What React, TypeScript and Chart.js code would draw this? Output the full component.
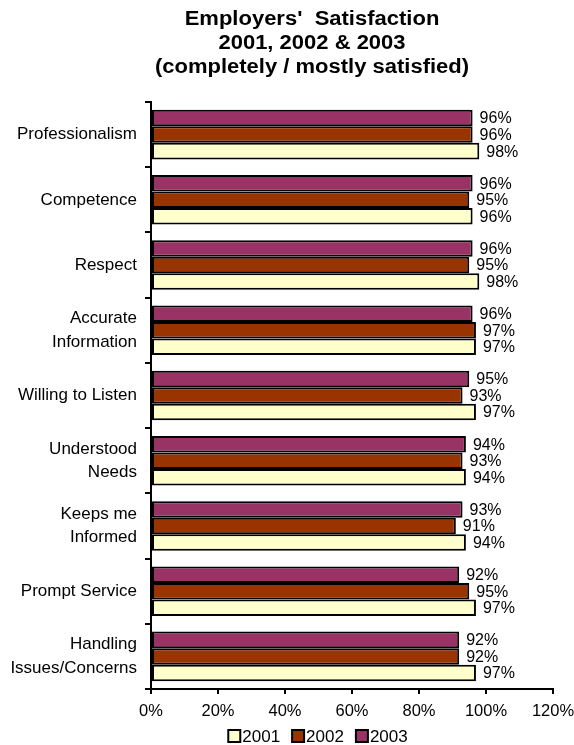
import React, { useEffect, useRef } from "react";
import { Chart, registerables } from "chart.js";

Chart.register(...registerables);

const categories: (string | string[])[] = [
  "Professionalism",
  "Competence",
  "Respect",
  ["Accurate", "Information"],
  "Willing to Listen",
  ["Understood", "Needs"],
  ["Keeps me", "Informed"],
  "Prompt Service",
  ["Handling", "Issues/Concerns"],
];

const values2003 = [96, 96, 96, 96, 95, 94, 93, 92, 92];
const values2002 = [96, 95, 95, 97, 93, 93, 91, 95, 92];
const values2001 = [98, 96, 98, 97, 97, 94, 94, 97, 97];

const xTicks = [0, 20, 40, 60, 80, 100, 120];

const titleLines = [
  "Employers'  Satisfaction",
  "2001, 2002 & 2003",
  "(completely / mostly satisfied)",
];

const FONT = "'Liberation Sans', Arial, sans-serif";

const dataLabels = {
  id: "dataLabels",
  afterDatasetsDraw(chart: any) {
    const ctx = chart.ctx;
    ctx.save();
    ctx.font = `16px ${FONT}`;
    ctx.fillStyle = "#000";
    ctx.textAlign = "left";
    ctx.textBaseline = "middle";
    chart.data.datasets.forEach((ds: any, di: number) => {
      const meta = chart.getDatasetMeta(di);
      meta.data.forEach((el: any, i: number) => {
        ctx.fillText(`${ds.data[i]}%`, el.x + 7, el.y + 1);
      });
    });
    ctx.restore();
  },
};

// Title drawn slightly widened, like the original rendering
const titlePlugin = {
  id: "customTitle",
  afterDraw(chart: any) {
    const ctx = chart.ctx;
    const cx = 312;
    const sx = 1.1;
    ctx.save();
    ctx.font = `bold 20px ${FONT}`;
    ctx.fillStyle = "#000";
    ctx.textAlign = "center";
    ctx.textBaseline = "middle";
    titleLines.forEach((line, i) => {
      ctx.save();
      ctx.translate(cx, 19 + i * 24);
      ctx.scale(sx, 1);
      ctx.fillText(line, 0, 0);
      ctx.restore();
    });
    ctx.restore();
  },
};

// Legend in 2001, 2002, 2003 order at the bottom
const legendPlugin = {
  id: "customLegend",
  afterDraw(chart: any) {
    const ctx = chart.ctx;
    const items = [...chart.data.datasets].reverse();
    const box = 12;
    const gap = 2;
    const spacing = 12;
    ctx.save();
    ctx.font = `17px ${FONT}`;
    ctx.textBaseline = "middle";
    ctx.textAlign = "left";
    const widths = items.map((ds: any) => box + gap + ctx.measureText(ds.label).width);
    const total = widths.reduce((a: number, b: number) => a + b, 0) + spacing * (items.length - 1);
    let x = 318 - total / 2;
    const y = 736;
    items.forEach((ds: any, i: number) => {
      ctx.fillStyle = ds.backgroundColor;
      ctx.fillRect(x, y - box / 2, box, box);
      ctx.strokeStyle = "#000";
      ctx.lineWidth = 2;
      ctx.strokeRect(x, y - box / 2, box, box);
      ctx.fillStyle = "#000";
      ctx.fillText(ds.label, x + box + gap, y + 1);
      x += widths[i] + spacing;
    });
    ctx.restore();
  },
};

export default function App() {
  const ref = useRef<HTMLCanvasElement | null>(null);
  useEffect(() => {
    document.body.style.margin = "0";
    const chart = new Chart(ref.current!, {
      type: "bar",
      data: {
        labels: categories,
        datasets: [
          {
            label: "2003",
            data: values2003,
            backgroundColor: "#993366",
            borderColor: "#000",
            borderWidth: 2,
            borderSkipped: false,
          },
          {
            label: "2002",
            data: values2002,
            backgroundColor: "#993300",
            borderColor: "#000",
            borderWidth: 2,
            borderSkipped: false,
          },
          {
            label: "2001",
            data: values2001,
            backgroundColor: "#FFFFCC",
            borderColor: "#000",
            borderWidth: 2,
            borderSkipped: false,
          },
        ],
      },
      plugins: [dataLabels, titlePlugin, legendPlugin],
      options: {
        indexAxis: "y",
        animation: false,
        responsive: false,
        devicePixelRatio: 1,
        layout: { padding: { left: 0, right: 21, top: 102, bottom: 19 } },
        datasets: {
          bar: { categoryPercentage: 0.76, barPercentage: 1.0 },
        },
        scales: {
          x: {
            min: 0,
            max: 120,
            afterBuildTicks: (scale: any) => {
              scale.ticks = xTicks.map((v) => ({ value: v }));
            },
            afterFit: (scale: any) => {
              scale.height = 37;
              scale.paddingLeft = 0;
              scale.paddingRight = 0;
            },
            ticks: {
              callback: (v: any) => `${v}%`,
              font: { family: FONT, size: 16.5 },
              color: "#000",
              padding: 8,
              maxRotation: 0,
              autoSkip: false,
            },
            grid: {
              drawOnChartArea: false,
              drawTicks: true,
              tickLength: 5,
              color: "#000",
              lineWidth: 2,
            },
            border: { display: true, color: "#000", width: 2 },
          },
          y: {
            afterFit: (scale: any) => {
              scale.width = 151;
              scale.paddingTop = 0;
              scale.paddingBottom = 0;
            },
            ticks: {
              font: { family: FONT, size: 17, lineHeight: 1.38 },
              color: "#000",
              padding: 8,
              autoSkip: false,
            },
            grid: {
              drawOnChartArea: false,
              drawTicks: true,
              tickLength: 6,
              color: "#000",
              lineWidth: 2,
            },
            border: { display: true, color: "#000", width: 2 },
          },
        },
        plugins: {
          title: { display: false },
          legend: { display: false },
          tooltip: { enabled: false },
        },
      },
    });
    return () => chart.destroy();
  }, []);
  return (
    <div style={{ width: 574, height: 745 }}>
      <canvas ref={ref} width={574} height={745} />
    </div>
  );
}
